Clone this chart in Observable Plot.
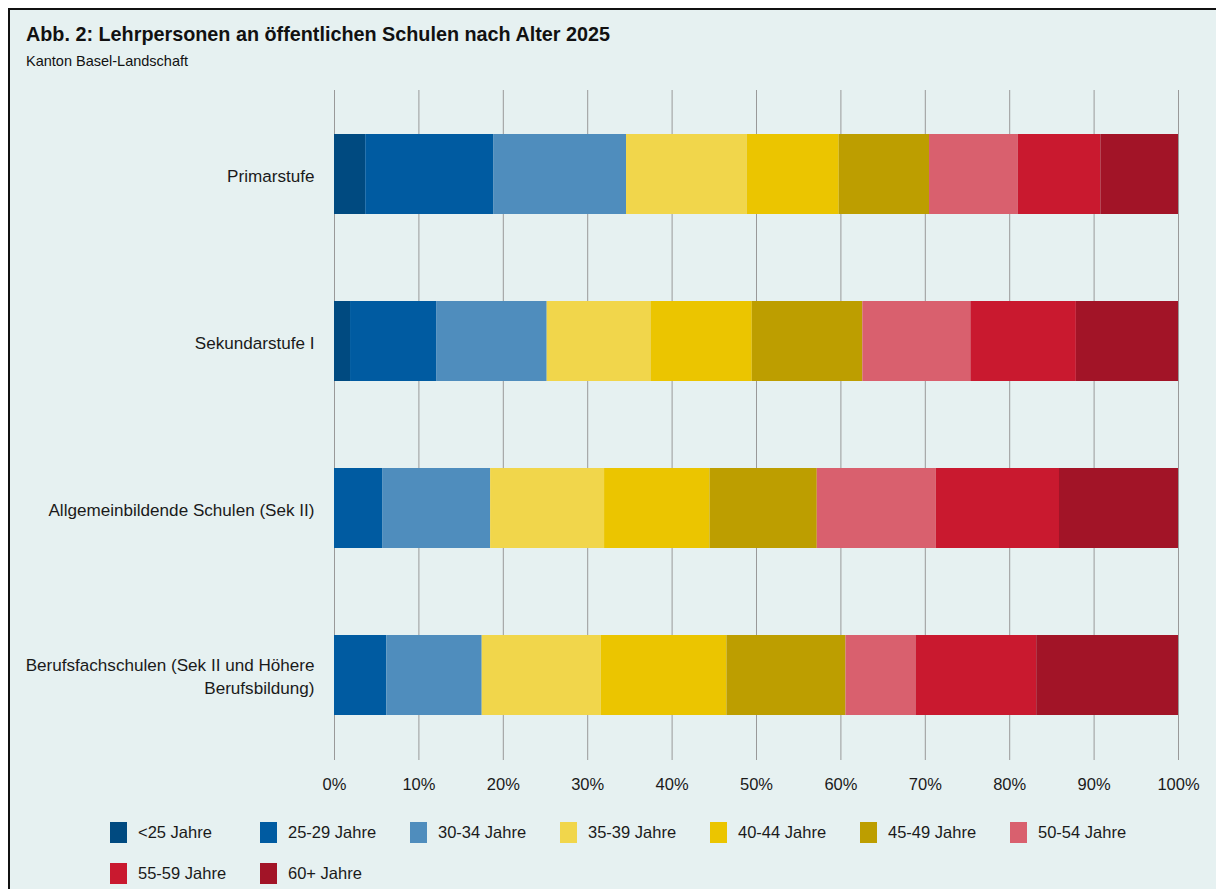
<!DOCTYPE html>
<html>
<head>
<meta charset="utf-8">
<script src="https://cdn.jsdelivr.net/npm/d3@7"></script>
<script src="https://cdn.jsdelivr.net/npm/@observablehq/plot@0.6"></script>
<style>
  html, body { margin: 0; padding: 0; background: #ffffff; overflow: hidden; }
  body { width: 1216px; height: 889px; position: relative; font-family: "Liberation Sans", Arial, sans-serif; color: #1a1a1a; }
  #frame { position: absolute; left: 8px; top: 8px; width: 1230px; height: 900px; border-left: 2px solid #111; border-top: 2px solid #111; background: #e6f1f1; box-sizing: border-box; }
  #title { position: absolute; left: 26px; top: 23px; font-size: 19.8px; font-weight: bold; color: #111; white-space: nowrap; }
  #subtitle { position: absolute; left: 26px; top: 53px; font-size: 14.5px; color: #111; white-space: nowrap; }
  #chart { position: absolute; left: 0; top: 80px; }
  #legend { position: absolute; left: 110px; top: 822px; width: 1060px; display: flex; flex-wrap: wrap; row-gap: 20px; }
  .item { width: 150px; display: flex; align-items: center; font-size: 16.5px; height: 21px; }
  .sw { width: 17px; height: 21px; margin-right: 11px; flex: none; }
</style>
</head>
<body>
<div id="frame"></div>
<div id="title">Abb. 2: Lehrpersonen an öffentlichen Schulen nach Alter 2025</div>
<div id="subtitle">Kanton Basel-Landschaft</div>
<div id="chart"></div>
<div id="legend"></div>
<script>
// Data (percent shares)
const schools = ["Primarstufe", "Sekundarstufe I", "Allgemeinbildende Schulen (Sek II)", "Berufsfachschulen (Sek II und Höhere Berufsbildung)"];
const schoolLabels = ["Primarstufe", "Sekundarstufe I", "Allgemeinbildende Schulen (Sek II)", "Berufsfachschulen (Sek II und Höhere\nBerufsbildung)"];
const ageGroups = ["<25 Jahre", "25-29 Jahre", "30-34 Jahre", "35-39 Jahre", "40-44 Jahre", "45-49 Jahre", "50-54 Jahre", "55-59 Jahre", "60+ Jahre"];
const ageColors = ["#004a80", "#005ba1", "#4f8dbd", "#f1d64b", "#ebc500", "#bd9e00", "#d9606e", "#c9192f", "#a21427"];
const primarstufe = [3.7, 15.2, 15.7, 14.3, 10.9, 10.7, 10.5, 9.8, 9.2];
const sekundarstufeI = [1.9, 10.2, 13.1, 12.3, 12.0, 13.1, 12.8, 12.5, 12.1];
const allgemeinbildend = [0, 5.7, 12.8, 13.5, 12.5, 12.7, 14.1, 14.6, 14.1];
const berufsfach = [0, 6.2, 11.3, 14.1, 14.9, 14.1, 8.3, 14.3, 16.8];
const xTicks = [0, 10, 20, 30, 40, 50, 60, 70, 80, 90, 100];

const series = [primarstufe, sekundarstufeI, allgemeinbildend, berufsfach];
const rows = [];
schools.forEach((s, i) => ageGroups.forEach((a, j) => rows.push({school: s, age: a, value: series[i][j]})));
const labelOf = new Map(schools.map((s, i) => [s, schoolLabels[i]]));

const chart = Plot.plot({
  width: 1216,
  height: 720,
  marginLeft: 334,
  marginRight: 38,
  marginTop: 10,
  marginBottom: 40,
  style: {fontFamily: "'Liberation Sans', Arial, sans-serif", background: "transparent", color: "#1a1a1a"},
  x: {domain: [0, 100]},
  y: {domain: schools, paddingInner: 0.52, paddingOuter: 0.26},
  color: {domain: ageGroups, range: ageColors},
  marks: [
    Plot.gridX({ticks: xTicks, stroke: "#999999", strokeOpacity: 1, strokeWidth: 1}),
    Plot.barX(rows, {x: "value", y: "school", fill: "age", z: "age", order: ageGroups}),
    Plot.axisX({ticks: xTicks, tickSize: 0, tickPadding: 18, tickFormat: d => d + "%", fontSize: 16.5, fill: "#1a1a1a", label: null}),
    Plot.axisY({tickSize: 0, tickPadding: 20, tickFormat: d => labelOf.get(d), fontSize: 17.1, lineHeight: 1.33, fill: "#1a1a1a", label: null})
  ]
});
document.getElementById("chart").appendChild(chart);

const legend = document.getElementById("legend");
ageGroups.forEach((a, i) => {
  const it = document.createElement("div");
  it.className = "item";
  const sw = document.createElement("span");
  sw.className = "sw";
  sw.style.background = ageColors[i];
  const tx = document.createElement("span");
  tx.textContent = a;
  it.appendChild(sw);
  it.appendChild(tx);
  legend.appendChild(it);
});
</script>
</body>
</html>
